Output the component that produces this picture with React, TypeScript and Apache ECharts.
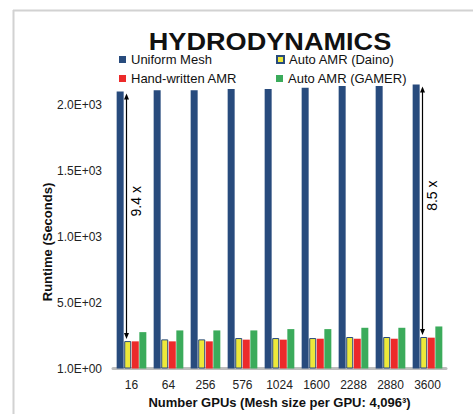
import React, { useEffect, useRef } from "react";
import * as echarts from "echarts";

const categories = ["16", "64", "256", "576", "1024", "1600", "2288", "2880", "3600"];
const uniformMesh = [2102, 2111, 2111, 2121, 2121, 2131, 2143, 2143, 2156];
const autoDaino = [208, 221, 221, 231, 231, 231, 239, 239, 239];
const handWritten = [206, 206, 206, 219, 219, 226, 226, 226, 234];
const autoGamer = [276, 289, 289, 289, 299, 299, 309, 309, 319];
const speedups = [
  { cat: 0, label: "9.4 x" },
  { cat: 8, label: "8.5 x" },
];
const seriesNames = ["Uniform Mesh", "Auto AMR (Daino)", "Hand-written AMR", "Auto AMR (GAMER)"];

const FONT = '"Liberation Sans", Arial, sans-serif';

function fmt(v: number): string {
  if (v === 0) return "1.0E+00";
  const e = Math.floor(Math.log10(v));
  const m = v / Math.pow(10, e);
  return m.toFixed(1) + "E+" + String(e).padStart(2, "0");
}

export default function App() {
  const ref = useRef<HTMLDivElement>(null);
  useEffect(() => {
    if (!ref.current) return;
    const chart = echarts.init(ref.current, null, { renderer: "svg" });
    const legendText = { color: "#111", fontSize: 13, fontFamily: FONT };
    const mkLegend = (name: string, left: number, top: number) => ({
      data: [name],
      left,
      top,
      padding: 0,
      itemWidth: 7,
      itemHeight: 7,
      itemGap: 5,
      icon: "rect",
      textStyle: legendText,
    });
    const colors = ["#284b7d", "#ede83a", "#ec2a2a", "#3bab5b"];
    const values = [uniformMesh, autoDaino, handWritten, autoGamer];
    chart.setOption({
      animation: false,
      grid: { left: 113, right: 27, top: 78.6, bottom: 45.5 },
      legend: [
        mkLegend(seriesNames[0], 119, 53),
        mkLegend(seriesNames[1], 276, 53),
        mkLegend(seriesNames[2], 119, 72),
        mkLegend(seriesNames[3], 276, 72),
      ],
      xAxis: {
        type: "category",
        data: categories,
        axisLine: { lineStyle: { color: "#bdbdbd", width: 3 } },
        axisTick: { show: false },
        axisLabel: { color: "#222", fontSize: 12, margin: 10, fontFamily: FONT },
        name: "Number GPUs (Mesh size per GPU: 4,096³)",
        nameLocation: "middle",
        nameGap: 27,
        nameTextStyle: { color: "#111", fontSize: 13, fontWeight: "bold", fontFamily: FONT },
      },
      yAxis: {
        type: "value",
        min: 0,
        max: 2200,
        interval: 500,
        splitLine: { show: false },
        axisLine: { show: false },
        axisTick: { show: false },
        axisLabel: {
          color: "#222",
          fontSize: 12,
          margin: 11,
          fontFamily: FONT,
          showMaxLabel: false,
          formatter: (v: number) => fmt(v),
        },
      },
      series: seriesNames.map((name, i) => ({
        name,
        type: "bar",
        data: values[i],
        barWidth: 7,
        barGap: "8%",
        itemStyle:
          i === 1
            ? { color: colors[i], borderColor: "#284b7d", borderWidth: 1 }
            : { color: colors[i] },
      })),
    });

    const g: any[] = [
      { type: "line", shape: { x1: 13, y1: 10.5, x2: 473, y2: 10.5 }, style: { stroke: "#d2d2d2", lineWidth: 2 } },
      { type: "line", shape: { x1: 13.5, y1: 10, x2: 13.5, y2: 414 }, style: { stroke: "#d2d2d2", lineWidth: 2 } },
      {
        type: "text",
        x: 270,
        y: 42,
        scaleX: 1.13,
        style: {
          text: "HYDRODYNAMICS",
          font: 'bold 24px "Liberation Sans", Arial, sans-serif',
          fill: "#111",
          align: "center",
          verticalAlign: "middle",
          textAlign: "center",
          textVerticalAlign: "middle",
        },
      },
      {
        type: "text",
        x: 47,
        y: 242,
        rotation: Math.PI / 2,
        style: {
          text: "Runtime (Seconds)",
          font: 'bold 13px "Liberation Sans", Arial, sans-serif',
          fill: "#111",
          align: "center",
          verticalAlign: "middle",
          textAlign: "center",
          textVerticalAlign: "middle",
        },
      },
    ];
    speedups.forEach((s) => {
      const pTop = chart.convertToPixel({ xAxisIndex: 0, yAxisIndex: 0 }, [s.cat, uniformMesh[s.cat]]) as number[];
      const pBot = chart.convertToPixel({ xAxisIndex: 0, yAxisIndex: 0 }, [s.cat, autoDaino[s.cat]]) as number[];
      const x = Math.round(pTop[0] - 5.5) + 0.5;
      const t = pTop[1] + 2;
      const b = pBot[1] - 2;
      g.push({ type: "line", shape: { x1: x, y1: t + 4, x2: x, y2: b - 4 }, style: { stroke: "#000", lineWidth: 1.2 } });
      g.push({ type: "polygon", shape: { points: [[x, t], [x - 2.5, t + 6], [x + 2.5, t + 6]] }, style: { fill: "#000" } });
      g.push({ type: "polygon", shape: { points: [[x, b], [x - 2.5, b - 6], [x + 2.5, b - 6]] }, style: { fill: "#000" } });
      g.push({
        type: "text",
        x: x + 9,
        y: (t + b) / 2 - 15,
        rotation: Math.PI / 2,
        style: {
          text: s.label,
          font: '14px "Liberation Sans", Arial, sans-serif',
          fill: "#000",
          align: "center",
          verticalAlign: "middle",
          textAlign: "center",
          textVerticalAlign: "middle",
        },
      });
    });
    chart.setOption({ graphic: g });
    return () => chart.dispose();
  }, []);
  return (
    <div
      ref={ref}
      style={{ position: "fixed", left: 0, top: 0, width: 473, height: 414, background: "#fff" }}
    />
  );
}
